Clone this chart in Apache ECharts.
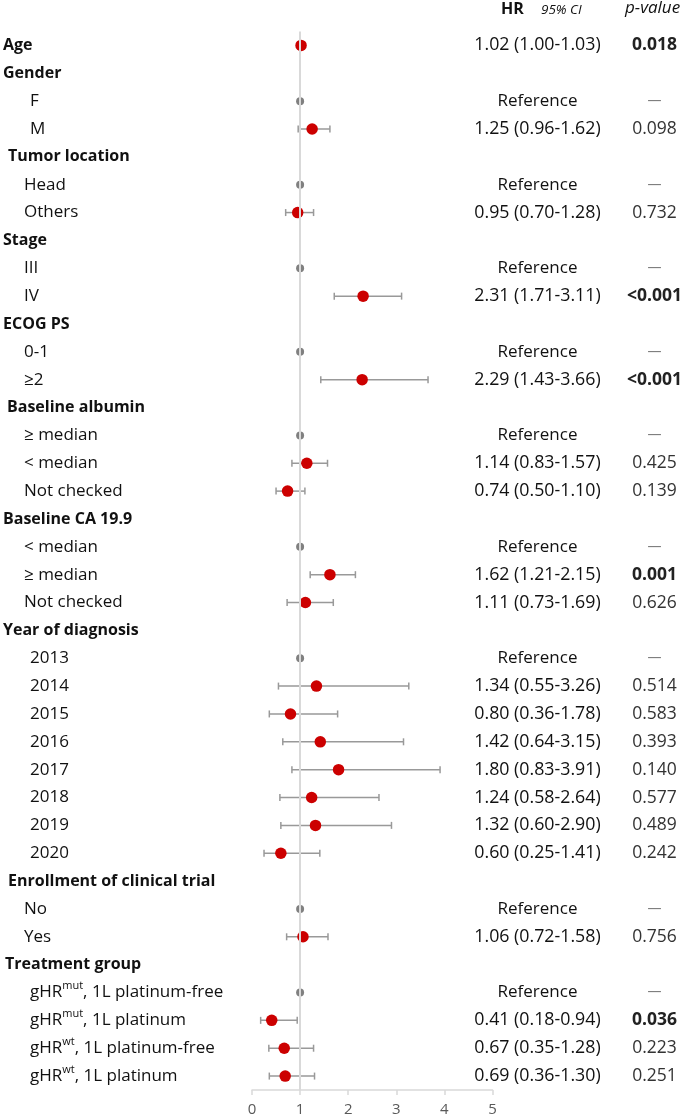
<!DOCTYPE html>
<html>
<head>
<meta charset="utf-8">
<script src="https://cdn.jsdelivr.net/npm/echarts@6/dist/echarts.min.js"></script>
<style>
html,body{margin:0;padding:0;background:#fff;}
#chart{width:685px;height:1117px;}
</style>
</head>
<body>
<div id="chart"></div>
<script>
// ---------- data ----------
const rowLabels = [
  "Age","Gender","F","M","Tumor location","Head","Others","Stage","III","IV",
  "ECOG PS","0-1","≥2","Baseline albumin","≥ median","< median","Not checked",
  "Baseline CA 19.9","< median","≥ median","Not checked","Year of diagnosis",
  "2013","2014","2015","2016","2017","2018","2019","2020",
  "Enrollment of clinical trial","No","Yes","Treatment group",
  "gHR^mut, 1L platinum-free","gHR^mut, 1L platinum","gHR^wt, 1L platinum-free","gHR^wt, 1L platinum"
];
const hrValues = [1.02,null,1,1.25,null,1,0.95,null,1,2.31,null,1,2.29,null,1,1.14,0.74,null,1,1.62,1.11,null,
  1,1.34,0.80,1.42,1.80,1.24,1.32,0.60,null,1,1.06,null,1,0.41,0.67,0.69];
const ciLower = [1.00,null,null,0.96,null,null,0.70,null,null,1.71,null,null,1.43,null,null,0.83,0.50,null,null,1.21,0.73,null,
  null,0.55,0.36,0.64,0.83,0.58,0.60,0.25,null,null,0.72,null,null,0.18,0.35,0.36];
const ciUpper = [1.03,null,null,1.62,null,null,1.28,null,null,3.11,null,null,3.66,null,null,1.57,1.10,null,null,2.15,1.69,null,
  null,3.26,1.78,3.15,3.91,2.64,2.90,1.41,null,null,1.58,null,null,0.94,1.28,1.30];
const pValues = ["0.018","","—","0.098","","—","0.732","","—","<0.001","","—","<0.001","","—","0.425","0.139","","—","0.001","0.626","","—",
  "0.514","0.583","0.393","0.140","0.577","0.489","0.242","","—","0.756","","—","0.036","0.223","0.251"];
const xTicks = [0,1,2,3,4,5];
const columnHeaders = ["HR","95% CI","p-value"];

// ---------- styles (not data) ----------
const rowStyle = ["h0","h0","i2","i2","h1","i1","i1","h0","i1","i1","h0","i1","i1","h1b","i1","i1","i1","h0","i1","i1","i1","h0",
  "i2","i2","i2","i2","i2","i2","i2","i2","h1","i1","i1","h0b","i2","i2","i2","i2"];

const FONT = '"Open Sans","Noto Sans",sans-serif';
const rowIdx = rowLabels.map((_, i) => i);

const isRef = i => hrValues[i] != null && ciLower[i] == null;
const fmt = v => v.toFixed(2);
const hrText = i => {
  if (hrValues[i] == null) return '';
  if (isRef(i)) return '{r|Reference}';
  return '{n|' + fmt(hrValues[i]) + ' (' + fmt(ciLower[i]) + '-' + fmt(ciUpper[i]) + ')}';
};
const pBold = s => s.startsWith('<') || (parseFloat(s) < 0.05);

function labelRich(i) {
  const st = rowStyle[i];
  const txt = rowLabels[i];
  const m = txt.match(/^(.*?)\^(\w+)(.*)$/);
  if (m) return '{' + st + '|' + m[1] + '}{sup|' + m[2] + '}{n|' + m[3] + '}';
  return '{' + st + '|' + txt + '}';
}

const refPts = [], estPts = [], ciData = [];
rowIdx.forEach(i => {
  if (hrValues[i] == null) return;
  if (isRef(i)) refPts.push([hrValues[i], i]);
  else {
    estPts.push([hrValues[i], i]);
    ciData.push([ciLower[i], ciUpper[i], i]);
  }
});

const chart = echarts.init(document.getElementById('chart'), null, {renderer: 'canvas'});
const headBase = {fontFamily: FONT, fontSize: 16, fontWeight: 'bold', color: '#111', lineHeight: 22};
const itemBase = {fontFamily: FONT, fontSize: 17, color: '#111', lineHeight: 22};

chart.setOption({
  animation: false,
  backgroundColor: '#fff',
  title: [
    {text: columnHeaders[0], left: 501, top: 1, padding: 0, textStyle: {fontFamily: FONT, fontSize: 16, fontWeight: 'bold', color: '#111'}},
    {text: columnHeaders[1], left: 541, top: 3, padding: 0, textStyle: {fontFamily: FONT, fontSize: 13.5, fontStyle: 'italic', fontWeight: 'normal', color: '#111'}},
    {text: columnHeaders[2], left: 625, top: 0, padding: 0, textStyle: {fontFamily: FONT, fontSize: 17, fontStyle: 'italic', fontWeight: 'normal', color: '#111'}}
  ],
  grid: {left: 247, right: 191, top: 31.5, bottom: 24.5, containLabel: false},
  xAxis: {
    type: 'value', min: 0, max: 5, interval: 1,
    splitLine: {show: false},
    axisLine: {show: true, lineStyle: {color: '#d9d9d9', width: 1.5}},
    axisTick: {show: true, length: 5, lineStyle: {color: '#d9d9d9', width: 1.5}},
    axisLabel: {fontFamily: FONT, fontSize: 15, color: '#595959', margin: 12,
      formatter: v => xTicks.includes(v) ? String(v) : ''}
  },
  yAxis: [
    {
      type: 'category', data: rowIdx, inverse: true, position: 'left',
      axisLine: {show: false}, axisTick: {show: false}, splitLine: {show: false},
      axisLabel: {
        interval: 0, align: 'left', margin: 249,
        formatter: (v, i) => labelRich(i),
        rich: {
          h0: Object.assign({}, headBase),
          h0b: Object.assign({}, headBase, {padding: [0, 0, 0, 2]}),
          h1b: Object.assign({}, headBase, {padding: [0, 0, 0, 4]}),
          h1: Object.assign({}, headBase, {padding: [0, 0, 0, 5]}),
          i1: Object.assign({}, itemBase, {padding: [0, 0, 0, 21]}),
          i2: Object.assign({}, itemBase, {padding: [0, 0, 0, 27]}),
          n: Object.assign({}, itemBase),
          sup: {fontFamily: FONT, fontSize: 11, color: '#111', lineHeight: 13, padding: [0, 0, 13, 0]}
        }
      }
    },
    {
      type: 'category', data: rowIdx, inverse: true, position: 'right',
      axisLine: {show: false}, axisTick: {show: false}, splitLine: {show: false},
      axisLabel: {interval: 0, align: 'center', margin: 45,
        formatter: (v, i) => hrText(i),
        rich: {
          r: {fontFamily: FONT, fontSize: 17, color: '#111'},
          n: {fontFamily: FONT, fontSize: 17.8, color: '#111'}
        }
      }
    },
    {
      type: 'category', data: rowIdx, inverse: true, position: 'right',
      axisLine: {show: false}, axisTick: {show: false}, splitLine: {show: false},
      axisLabel: {interval: 0, align: 'center', margin: 162,
        formatter: (v, i) => {
          const s = pValues[i];
          if (!s) return '';
          if (s === '—') return '{d|—}';
          return pBold(s) ? '{b|' + s + '}' : '{n|' + s + '}';
        },
        rich: {
          b: {fontFamily: FONT, fontSize: 17.5, fontWeight: 'bold', color: '#222'},
          n: {fontFamily: FONT, fontSize: 17.5, color: '#333'},
          d: {fontFamily: FONT, fontSize: 14, color: '#777'}
        }
      }
    }
  ],
  series: [
    {
      type: 'custom', name: 'ci', xAxisIndex: 0, yAxisIndex: 0,
      data: ciData,
      renderItem: (params, api) => {
        const y = api.value(2);
        const p1 = api.coord([api.value(0), y]);
        const p2 = api.coord([api.value(1), y]);
        const h = 3.5;
        const style = {stroke: '#999999', lineWidth: 1.5, fill: null};
        return {
          type: 'group',
          children: [
            {type: 'line', shape: {x1: p1[0], y1: p1[1], x2: p2[0], y2: p2[1]}, style},
            {type: 'line', shape: {x1: p1[0], y1: p1[1] - h, x2: p1[0], y2: p1[1] + h}, style},
            {type: 'line', shape: {x1: p2[0], y1: p2[1] - h, x2: p2[0], y2: p2[1] + h}, style}
          ]
        };
      },
      markLine: {
        silent: true, symbol: 'none', label: {show: false},
        lineStyle: {color: '#d9d9d9', width: 2, type: 'solid'},
        data: [{xAxis: 1}]
      },
      z: 2
    },
    {
      type: 'scatter', name: 'reference', yAxisIndex: 0,
      data: refPts, symbolSize: 8,
      itemStyle: {color: '#808080', opacity: 1}, z: 3
    },
    {
      type: 'scatter', name: 'estimate', yAxisIndex: 0,
      data: estPts, symbolSize: 11.5,
      itemStyle: {color: '#cc0000', opacity: 1}, z: 4
    }
  ]
});
</script>
</body>
</html>
